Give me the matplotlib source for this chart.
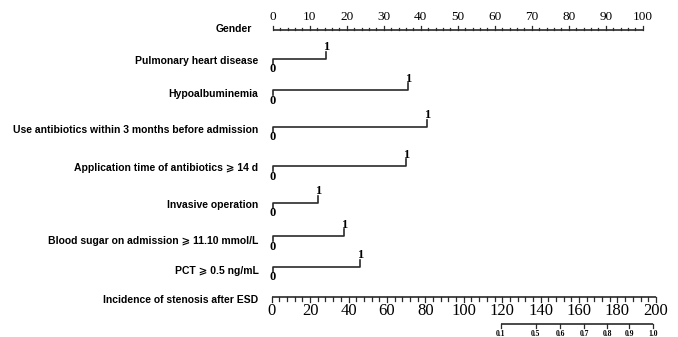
import matplotlib
matplotlib.use("Agg")
import matplotlib.pyplot as plt
import matplotlib.transforms as mtrans

# ---------------- data ----------------
axis_title = "Gender"
variables = [
    "Pulmonary heart disease",
    "Hypoalbuminemia",
    "Use antibiotics within 3 months before admission",
    "Application time of antibiotics \u2a7e 14 d",
    "Invasive operation",
    "Blood sugar on admission \u2a7e 11.10 mmol/L",
    "PCT \u2a7e 0.5 ng/mL",
]
points_for_1 = [14.4, 36.5, 41.8, 36.0, 12.2, 19.2, 23.6]
points_ticks = list(range(0, 101, 10))
total_title = "Incidence of stenosis after ESD"
total_ticks = list(range(0, 201, 20))
prob_labels = ["0.1", "0.5", "0.6", "0.7", "0.8", "0.9", "1.0"]
prob_total_points = [119.2, 137.4, 150.1, 162.6, 174.8, 186.0, 198.4]

# ---------------- layout (pixels) ----------------
W, H = 678, 337
PTS_X0, PTS_PX = 272.7, 3.70      # points axis origin & px per point
TOT_X0, TOT_PX = 271.7, 1.921     # total-points axis origin & px per unit
LABEL_X = 258.5
top_axis_y = 30
var_line_y = [59, 90, 127, 166, 203, 236, 267]
var_label_y = [61, 94, 130, 168, 205.5, 240.5, 271]
total_axis_y = 297
prob_axis_y = 324
LC = "#2a2a2a"
LW = 1.2
SERIF = "Liberation Serif"
SANS = "Liberation Sans"
LABEL_FS = 7.45

fig = plt.figure(figsize=(W / 100, H / 100), dpi=100)
ax = fig.add_axes([0, 0, 1, 1])
ax.set_xlim(-PTS_X0 / PTS_PX, (W - PTS_X0) / PTS_PX)
ax.set_ylim(H, 0)
ax.axis("off")

ax2 = fig.add_axes([0, 0, 1, 1])
ax2.set_xlim(-TOT_X0 / TOT_PX, (W - TOT_X0) / TOT_PX)
ax2.set_ylim(H, 0)
ax2.axis("off")
ax2.patch.set_alpha(0)

lab_tr = mtrans.blended_transform_factory(fig.dpi_scale_trans, ax.transData)


def label(y, s, x=LABEL_X):
    ax.text(x / 100, y, s, transform=lab_tr, ha="right", va="center",
            fontsize=LABEL_FS, fontweight="bold", family=[SANS, "DejaVu Sans"])

# ---- top points axis ----
ax.plot([0, 100], [top_axis_y, top_axis_y], color=LC, lw=LW, solid_capstyle="butt")
for v in range(0, 101, 2):
    ln = 4 if v % 10 == 0 else 2.5
    ax.plot([v, v], [top_axis_y, top_axis_y - ln], color=LC, lw=0.9)
for v in points_ticks:
    ax.text(v, 17, str(v), ha="center", va="center", fontsize=9.5, family=SERIF, color="black")
label(29.5, axis_title, x=252.5)

# ---- variables ----
for name, p, yl, yt in zip(variables, points_for_1, var_line_y, var_label_y):
    ax.plot([0, 0, p, p], [yl + 5, yl, yl, yl - 7], color=LC, lw=LW)
    ax.text(0, yl + 4.5, "0", ha="center", va="top", fontsize=9, fontweight="bold", family=SERIF)
    ax.text(p, yl - 5.5, "1", ha="center", va="bottom", fontsize=9, fontweight="bold", family=SERIF)
    label(yt, name)

# ---- total points axis ----
ax2.plot([0, 200], [total_axis_y, total_axis_y], color=LC, lw=LW, solid_capstyle="butt")
for v in range(0, 201, 4):
    ln = 5 if v % 20 == 0 else 3.5
    ax2.plot([v, v], [total_axis_y, total_axis_y + ln], color=LC, lw=0.9)
for v in total_ticks:
    ax2.text(v, 311, str(v), ha="center", va="center", fontsize=12, family=SERIF)
label(300, total_title)

# ---- probability axis ----
ax2.plot([prob_total_points[0], prob_total_points[-1]], [prob_axis_y, prob_axis_y],
         color=LC, lw=LW, solid_capstyle="butt")
for v, s in zip(prob_total_points, prob_labels):
    ax2.plot([v, v], [prob_axis_y, prob_axis_y + 4], color=LC, lw=0.9)
    ax2.text(v, 334, s, ha="center", va="center", fontsize=5.5, fontweight="bold", family=SERIF)

fig.savefig("out.png", dpi=100)
